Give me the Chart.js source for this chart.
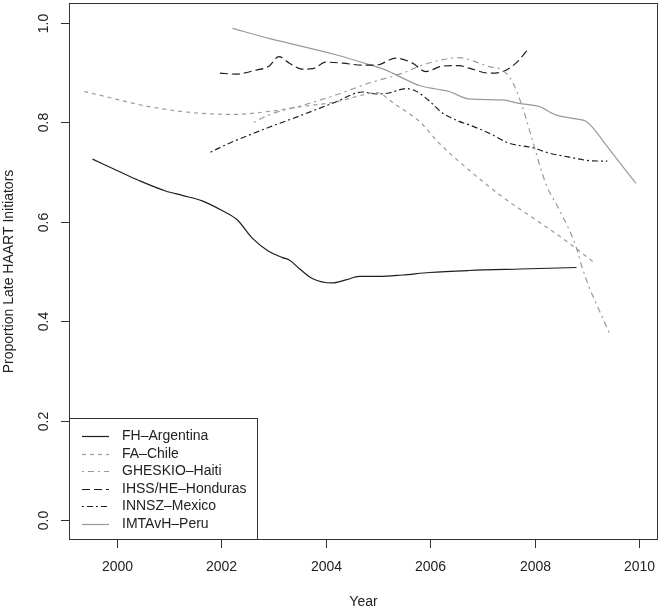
<!DOCTYPE html>
<html>
<head>
	<title>Late HAART Initiators</title>
	<style>
		body { margin: 0; background: #fff; }
	</style>
</head>
<body>
	<canvas id="chart" width="662" height="610"></canvas>
	<script src="https://cdn.jsdelivr.net/npm/chart.js"></script>
	<script>
		// values (year, proportion)
		const argYears = [1999.53, 2000.04, 2000.42, 2000.93, 2001.25, 2001.63, 2002.02, 2002.30, 2002.59, 2002.91, 2003.17, 2003.30, 2003.49, 2003.74, 2004.12, 2004.38, 2004.64, 2005.02, 2005.47, 2005.98, 2006.74, 2007.72, 2008.80];
		const argValues = [0.726, 0.701, 0.683, 0.662, 0.653, 0.642, 0.622, 0.604, 0.567, 0.540, 0.528, 0.523, 0.506, 0.486, 0.477, 0.483, 0.490, 0.490, 0.493, 0.498, 0.502, 0.505, 0.508];

		const chiYears = [1999.37, 1999.85, 2000.36, 2001.00, 2001.63, 2002.27, 2002.91, 2003.55, 2004.19, 2004.70, 2004.96, 2005.34, 2005.79, 2006.17, 2006.74, 2007.38, 2008.02, 2008.66, 2009.11];
		const chiValues = [0.862, 0.850, 0.837, 0.825, 0.818, 0.816, 0.822, 0.832, 0.841, 0.855, 0.860, 0.835, 0.802, 0.758, 0.704, 0.650, 0.604, 0.557, 0.520];

		const haiYears = [2002.62, 2002.91, 2003.55, 2004.19, 2004.83, 2005.47, 2005.79, 2006.23, 2006.55, 2006.74, 2007.13, 2007.38, 2007.57, 2007.77, 2007.96, 2008.21, 2008.47, 2008.79, 2008.88, 2009.04, 2009.23, 2009.43];
		const haiValues = [0.800, 0.815, 0.834, 0.855, 0.879, 0.899, 0.913, 0.926, 0.930, 0.926, 0.912, 0.905, 0.882, 0.829, 0.762, 0.677, 0.624, 0.550, 0.517, 0.469, 0.423, 0.376];

		const honYears = [2001.97, 2002.27, 2002.66, 2002.91, 2003.10, 2003.30, 2003.55, 2003.75, 2004.00, 2004.32, 2004.70, 2004.96, 2005.34, 2005.66, 2005.91, 2006.23, 2006.55, 2006.74, 2007.13, 2007.38, 2007.64, 2007.89];
		const honValues = [0.899, 0.897, 0.905, 0.913, 0.932, 0.919, 0.907, 0.908, 0.921, 0.919, 0.915, 0.915, 0.929, 0.919, 0.902, 0.913, 0.914, 0.909, 0.899, 0.902, 0.919, 0.949];

		const mexYears = [2001.79, 2002.15, 2002.91, 2003.55, 2004.19, 2004.70, 2004.96, 2005.21, 2005.53, 2005.72, 2005.98, 2006.23, 2006.55, 2006.74, 2007.13, 2007.51, 2008.00, 2008.21, 2008.66, 2009.04, 2009.39];
		const mexValues = [0.740, 0.758, 0.790, 0.815, 0.841, 0.861, 0.857, 0.859, 0.868, 0.863, 0.843, 0.819, 0.802, 0.795, 0.778, 0.758, 0.748, 0.740, 0.730, 0.723, 0.722];

		const perYears = [2002.21, 2002.91, 2004.19, 2004.83, 2005.15, 2005.47, 2005.79, 2006.11, 2006.36, 2006.74, 2007.38, 2007.70, 2008.08, 2008.40, 2008.79, 2008.98, 2009.17, 2009.36, 2009.94];
		const perValues = [0.989, 0.969, 0.936, 0.916, 0.905, 0.889, 0.874, 0.867, 0.862, 0.847, 0.845, 0.838, 0.832, 0.815, 0.807, 0.802, 0.782, 0.755, 0.677];

		const seriesNames = ['FH\u2013Argentina', 'FA\u2013Chile', 'GHESKIO\u2013Haiti', 'IHSS/HE\u2013Honduras', 'INNSZ\u2013Mexico', 'IMTAvH\u2013Peru'];
		const xTicks = [2000, 2002, 2004, 2006, 2008, 2010];
		const yTicks = [0.0, 0.2, 0.4, 0.6, 0.8, 1.0];

		const dark = '#1e1e1e';
		const grey = '#9a9a9a';
		const styles = [
			{ color: dark, dash: [] },
			{ color: grey, dash: [4, 4] },
			{ color: grey, dash: [2, 4, 6, 4] },
			{ color: dark, dash: [8, 4] },
			{ color: dark, dash: [2, 3, 6, 3] },
			{ color: grey, dash: [] }
		];

		function pts(xs, ys) {
			return xs.map((x, i) => ({ x: x, y: ys[i] }));
		}

		const allData = [
			pts(argYears, argValues),
			pts(chiYears, chiValues),
			pts(haiYears, haiValues),
			pts(honYears, honValues),
			pts(mexYears, mexValues),
			pts(perYears, perValues)
		];

		const font = '14px "Liberation Sans", Arial, sans-serif';

		// R-style box, axes, labels and legend
		const rFrame = {
			id: 'rFrame',
			afterDraw(chart) {
				const ctx = chart.ctx;
				const a = chart.chartArea;
				const xs = chart.scales.x;
				const ys = chart.scales.y;
				ctx.save();
				ctx.strokeStyle = '#333';
				ctx.lineWidth = 1;
				ctx.setLineDash([]);
				ctx.strokeRect(a.left + 0.5, a.top + 0.5, a.right - a.left - 1, a.bottom - a.top - 1);

				ctx.fillStyle = '#222';
				ctx.font = font;
				// x axis
				ctx.textAlign = 'center';
				ctx.textBaseline = 'middle';
				xTicks.forEach(v => {
					const px = Math.round(xs.getPixelForValue(v)) + 0.5;
					ctx.beginPath();
					ctx.moveTo(px, a.bottom);
					ctx.lineTo(px, a.bottom + 8);
					ctx.stroke();
					ctx.fillText(String(v), px, a.bottom + 27);
				});
				ctx.fillText('Year', (a.left + a.right) / 2, a.bottom + 62);

				// y axis
				yTicks.forEach(v => {
					const py = Math.round(ys.getPixelForValue(v)) + 0.5;
					ctx.beginPath();
					ctx.moveTo(a.left - 8, py);
					ctx.lineTo(a.left, py);
					ctx.stroke();
					ctx.save();
					ctx.translate(a.left - 25, py);
					ctx.rotate(-Math.PI / 2);
					ctx.fillText(v.toFixed(1), 0, 0);
					ctx.restore();
				});
				ctx.save();
				ctx.translate(9, (a.top + a.bottom) / 2);
				ctx.rotate(-Math.PI / 2);
				ctx.fillText('Proportion Late HAART Initiators', 0, 0);
				ctx.restore();

				// legend
				const lx = a.left, lb = a.bottom, lw = 188, lh = 122;
				ctx.strokeRect(lx + 0.5, lb - lh + 0.5, lw, lh - 1);
				ctx.textAlign = 'left';
				seriesNames.forEach((name, i) => {
					const ry = Math.round(lb - lh + 18 + i * 17.5) + 0.5;
					ctx.save();
					ctx.strokeStyle = styles[i].color;
					ctx.lineWidth = 1.2;
					ctx.setLineDash(styles[i].dash);
					ctx.beginPath();
					ctx.moveTo(lx + 13, ry);
					ctx.lineTo(lx + 40, ry);
					ctx.stroke();
					ctx.restore();
					ctx.fillText(name, lx + 53, ry);
				});
				ctx.restore();
			}
		};

		new Chart(document.getElementById('chart'), {
			type: 'line',
			data: {
				datasets: allData.map((d, i) => ({
					label: seriesNames[i],
					data: d,
					borderColor: styles[i].color,
					borderDash: styles[i].dash,
					borderWidth: 1.2,
					pointRadius: 0,
					fill: false,
					cubicInterpolationMode: 'monotone'
				}))
			},
			options: {
				responsive: false,
				animation: false,
				layout: { padding: { left: 69, right: 4, top: 3, bottom: 70 } },
				plugins: { legend: { display: false }, tooltip: { enabled: false } },
				scales: {
					x: { type: 'linear', min: 1999.08, max: 2010.36, display: false },
					y: { type: 'linear', min: -0.04, max: 1.04, display: false }
				}
			},
			plugins: [rFrame]
		});
	</script>
</body>
</html>
